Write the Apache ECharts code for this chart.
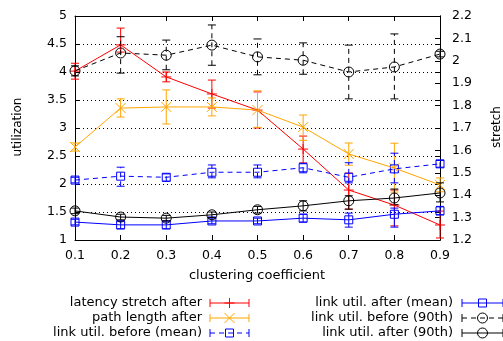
<!DOCTYPE html>
<html><head><meta charset="utf-8">
<script src="https://cdn.jsdelivr.net/npm/echarts@6/dist/echarts.min.js"></script>
<style>html,body{margin:0;padding:0;background:#fff}#c{width:503px;height:341px}</style>
</head><body><div id="c"></div>
<script>
// ---- data ----
const clustering = [0.1, 0.2, 0.3, 0.4, 0.5, 0.6, 0.7, 0.8, 0.9];
const xTickLabels = ['0.1','0.2','0.3','0.4','0.5','0.6','0.7','0.8','0.9'];

// stretch (right axis)
const latencyStretch   = [1.954, 2.071, 1.928, 1.852, 1.780, 1.606, 1.423, 1.356, 1.267];
const latencyStretchLo = [1.918, 2.039, 1.906, 1.789, 1.700, 1.544, 1.338, 1.263, 1.209];
const latencyStretchHi = [1.989, 2.146, 1.950, 1.914, 1.861, 1.664, 1.499, 1.423, 1.329];

const pathLength   = [1.615, 1.789, 1.794, 1.794, 1.780, 1.704, 1.584, 1.521, 1.446];
const pathLengthLo = [1.597, 1.749, 1.718, 1.754, 1.703, 1.645, 1.534, 1.414, 1.415];
const pathLengthHi = [1.633, 1.830, 1.870, 1.834, 1.866, 1.758, 1.633, 1.632, 1.477];

// utilization (left axis)
const utilBeforeMean   = [2.07, 2.14, 2.12, 2.21, 2.21, 2.29, 2.12, 2.27, 2.36];
const utilBeforeMeanLo = [2.02, 1.96, 2.05, 2.11, 2.11, 2.20, 2.02, 2.02, 2.30];
const utilBeforeMeanHi = [2.12, 2.30, 2.18, 2.34, 2.34, 2.37, 2.38, 2.55, 2.42];

const utilAfterMean   = [1.32, 1.27, 1.27, 1.34, 1.34, 1.39, 1.36, 1.46, 1.52];
const utilAfterMeanLo = [1.27, 1.20, 1.20, 1.29, 1.29, 1.32, 1.23, 1.23, 1.45];
const utilAfterMeanHi = [1.37, 1.34, 1.34, 1.39, 1.39, 1.46, 1.48, 1.57, 1.60];

const utilBefore90   = [4.02, 4.34, 4.30, 4.48, 4.27, 4.21, 4.00, 4.09, 4.32];
const utilBefore90Lo = [3.93, 3.98, 4.04, 4.12, 3.95, 3.96, 3.52, 3.52, 4.27];
const utilBefore90Hi = [4.11, 4.63, 4.57, 4.84, 4.59, 4.52, 4.48, 4.68, 4.37];

const utilAfter90   = [1.52, 1.41, 1.39, 1.45, 1.54, 1.61, 1.70, 1.75, 1.84];
const utilAfter90Lo = [1.47, 1.36, 1.34, 1.40, 1.48, 1.52, 1.55, 1.63, 1.68];
const utilAfter90Hi = [1.57, 1.46, 1.44, 1.50, 1.60, 1.70, 1.79, 1.91, 2.02];

const leftTicks  = ['1','1.5','2','2.5','3','3.5','4','4.5','5'];
const rightTicks = ['1.2','1.3','1.4','1.5','1.6','1.7','1.8','1.9','2','2.1','2.2'];

const seriesDefs = [
  {name:'latency stretch after', v:latencyStretch, lo:latencyStretchLo, hi:latencyStretchHi, color:'#ff0000', dash:false, marker:'plus', axis:1},
  {name:'path length after', v:pathLength, lo:pathLengthLo, hi:pathLengthHi, color:'#ffa500', dash:false, marker:'cross', axis:1},
  {name:'link util. before (mean)', v:utilBeforeMean, lo:utilBeforeMeanLo, hi:utilBeforeMeanHi, color:'#0000ff', dash:true, marker:'square', axis:0},
  {name:'link util. after (mean)', v:utilAfterMean, lo:utilAfterMeanLo, hi:utilAfterMeanHi, color:'#0000ff', dash:false, marker:'square', axis:0},
  {name:'link util. before (90th)', v:utilBefore90, lo:utilBefore90Lo, hi:utilBefore90Hi, color:'#000000', dash:true, marker:'circle', axis:0},
  {name:'link util. after (90th)', v:utilAfter90, lo:utilAfter90Lo, hi:utilAfter90Hi, color:'#000000', dash:false, marker:'circle', axis:0}
];

const FONT = 'DejaVu Sans';
const DASH = [5, 4];

function markerShapes(m, cx, cy, color) {
  const st = {stroke: color, fill: 'none', lineWidth: 1};
  if (m === 'plus') return [
    {type:'line', shape:{x1:cx-5,y1:cy,x2:cx+5,y2:cy}, style:st},
    {type:'line', shape:{x1:cx,y1:cy-5,x2:cx,y2:cy+5}, style:st}];
  if (m === 'cross') return [
    {type:'line', shape:{x1:cx-5,y1:cy-5,x2:cx+5,y2:cy+5}, style:st},
    {type:'line', shape:{x1:cx-5,y1:cy+5,x2:cx+5,y2:cy-5}, style:st}];
  if (m === 'square') return [{type:'rect', shape:{x:cx-4,y:cy-4,width:8,height:8}, style:st}];
  return [{type:'circle', shape:{cx:cx,cy:cy,r:5}, style:st}];
}

function errRender(def) {
  return function(params, api) {
    const x = api.value(0);
    const p = api.coord([x, api.value(1)]);
    const pl = api.coord([x, api.value(2)]);
    const ph = api.coord([x, api.value(3)]);
    const st = {stroke: def.color, lineWidth: 1, lineDash: def.dash ? DASH : null};
    const cst = {stroke: def.color, lineWidth: 1};
    const ch = [
      {type:'line', shape:{x1:p[0],y1:pl[1],x2:p[0],y2:ph[1]}, style:st},
      {type:'line', shape:{x1:p[0]-4,y1:pl[1],x2:p[0]+4,y2:pl[1]}, style:cst},
      {type:'line', shape:{x1:p[0]-4,y1:ph[1],x2:p[0]+4,y2:ph[1]}, style:cst}
    ].concat(markerShapes(def.marker, p[0], p[1], def.color));
    return {type:'group', children: ch};
  };
}

const series = [];
seriesDefs.forEach(def => {
  series.push({
    type:'line', name:def.name, yAxisIndex:def.axis, xAxisIndex:0,
    data: clustering.map((x,i)=>[x, def.v[i]]),
    symbol:'none', animation:false, silent:true,
    lineStyle:{color:def.color, width:1, type: def.dash ? DASH : 'solid'}
  });
  series.push({
    type:'custom', yAxisIndex:def.axis, xAxisIndex:0, animation:false, silent:true, clip:false,
    data: clustering.map((x,i)=>[x, def.v[i], def.lo[i], def.hi[i]]),
    encode:{x:0, y:[1,2,3]},
    renderItem: errRender(def)
  });
});

// legend graphics
const legendRows = [303, 318, 333];
const legendCols = [{textRight:202, s0:210, s1:249}, {textRight:453, s0:462, s1:503}];
const graphics = [];
seriesDefs.forEach((def, i) => {
  const col = legendCols[i < 3 ? 0 : 1];
  const y = legendRows[i % 3];
  graphics.push({type:'text', x: col.textRight, y: y,
    style:{text:def.name, font:'13px "'+FONT+'"', fill:'#000', textAlign:'right', textVerticalAlign:'middle'}});
  const st = {stroke:def.color, lineWidth:1, lineDash: def.dash ? DASH : null};
  const cst = {stroke:def.color, lineWidth:1};
  graphics.push({type:'line', shape:{x1:col.s0, y1:y, x2:col.s1, y2:y}, style:st});
  graphics.push({type:'line', shape:{x1:col.s0, y1:y-4, x2:col.s0, y2:y+4}, style:cst});
  graphics.push({type:'line', shape:{x1:col.s1, y1:y-4, x2:col.s1, y2:y+4}, style:cst});
  const cx = (col.s0 + col.s1) / 2;
  markerShapes(def.marker, cx, y, def.color).forEach(m => graphics.push(m));
});
graphics.push({type:'text', x:257, y:276, style:{text:'clustering coefficient', font:'13px "'+FONT+'"', fill:'#000', textAlign:'center', textVerticalAlign:'middle'}});
graphics.push({type:'text', x:18, y:127, rotation:Math.PI/2, style:{text:'utilization', font:'12px "'+FONT+'"', fill:'#000', textAlign:'center', textVerticalAlign:'middle'}});
graphics.push({type:'text', x:497, y:127, rotation:Math.PI/2, style:{text:'stretch', font:'12px "'+FONT+'"', fill:'#000', textAlign:'center', textVerticalAlign:'middle'}});

const axisBase = {
  axisLine:{show:true, onZero:false, lineStyle:{color:'#000', width:1}},
  axisTick:{show:true, inside:true, length:5, lineStyle:{color:'#000'}},
  axisLabel:{color:'#000', fontFamily:FONT, fontSize:12},
  splitLine:{show:false}
};

const chart = echarts.init(document.getElementById('c'), null, {renderer:'canvas'});
chart.setOption({
  animation:false,
  backgroundColor:'#fff',
  grid:{left:75, right:63, top:16, bottom:101, show:false},
  xAxis:[
    Object.assign({}, axisBase, {type:'value', position:'bottom', min:0.1, max:0.9, interval:0.1,
      axisLabel:{color:'#000', fontFamily:FONT, fontSize:12.5, margin:9,
        formatter:v => xTickLabels[Math.round(v*10)-1] || ''}}),
    Object.assign({}, axisBase, {type:'value', position:'top', min:0.1, max:0.9, interval:0.1,
      axisLabel:{show:false}})
  ],
  yAxis:[
    Object.assign({}, axisBase, {type:'value', position:'left', min:1, max:5, interval:0.5,
      axisLabel:{color:'#000', fontFamily:FONT, fontSize:12.5, margin:8,
        formatter:v => leftTicks[Math.round((v-1)*2)] || ''},
      splitLine:{show:true, lineStyle:{color:'#000', type:[1,3], width:1}}}),
    Object.assign({}, axisBase, {type:'value', position:'right', min:1.2, max:2.2, interval:0.1,
      axisLabel:{color:'#000', fontFamily:FONT, fontSize:12.5, margin:12,
        formatter:v => rightTicks[Math.round((v-1.2)*10)] || ''}}),
    Object.assign({}, axisBase, {type:'value', position:'right', min:1, max:5, interval:0.5,
      axisLabel:{show:false}})
  ],
  graphic: graphics,
  series: series
});
</script></body></html>
